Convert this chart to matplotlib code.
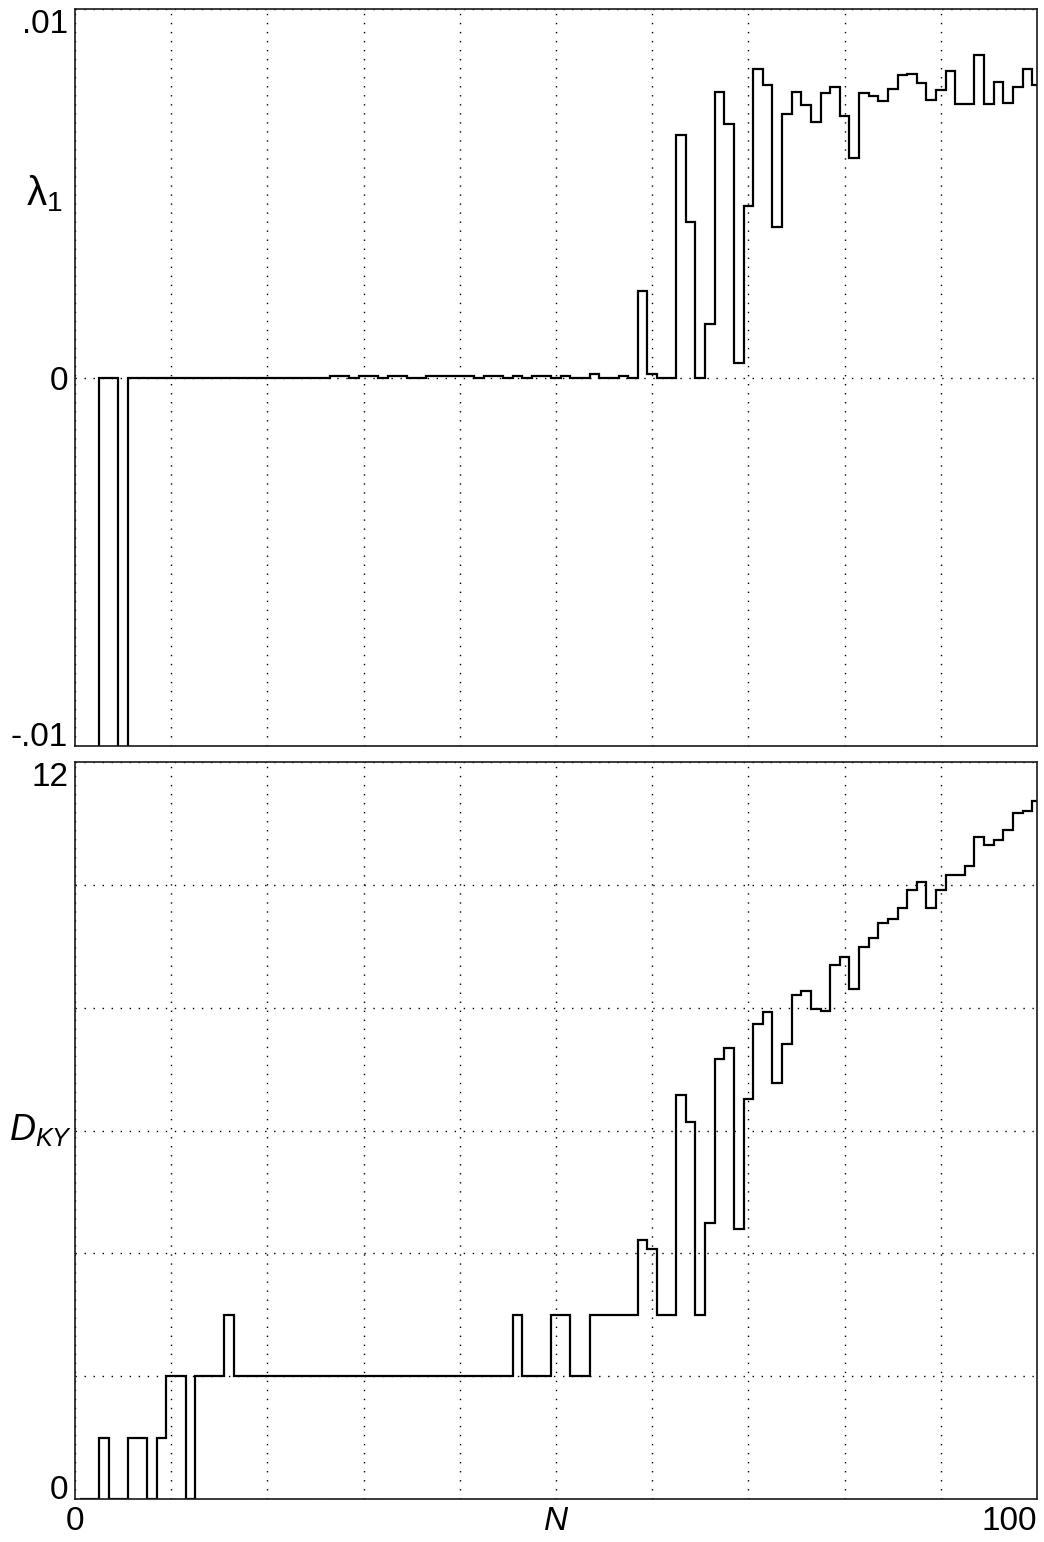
import numpy as np
import matplotlib
matplotlib.use("Agg")
import matplotlib.pyplot as plt

plt.rcParams['font.family'] = ['Liberation Sans', 'DejaVu Sans']
plt.rcParams['mathtext.fontset'] = 'custom'
plt.rcParams['mathtext.rm'] = 'Liberation Sans'
plt.rcParams['mathtext.it'] = 'Liberation Sans:italic'

# system size N = 1..100
n_vals = np.arange(1, 101)

# largest Lyapunov exponent, in units of 1e-3 (values below -10 are off the chart)
lam1_milli = [
    -20, -20, 0, 0, -20, 0, 0, 0, 0, 0,
    0, 0, 0, 0, 0, 0, 0, 0, 0, 0,
    0, 0, 0, 0, 0, 0, 0.04, 0.04, 0, 0.04,
    0.04, 0, 0.04, 0.04, 0, 0, 0.04, 0.04, 0.04, 0.04,
    0.04, 0, 0.04, 0.04, 0, 0.04, 0, 0.04, 0.04, 0,
    0.04, 0, 0, 0.09, 0, 0, 0.04, 0, 2.36, 0.09,
    0, 0, 6.58, 4.22, 0, 1.44, 7.75, 6.88, 0.39, 4.66,
    8.36, 7.93, 4.09, 7.15, 7.75, 7.40, 6.94, 7.72, 7.88, 7.09,
    5.97, 7.72, 7.63, 7.50, 7.84, 8.20, 8.24, 7.99, 7.54, 7.80,
    8.32, 7.41, 7.41, 8.76, 7.41, 8.02, 7.45, 7.89, 8.36, 7.93,
]
lam1 = np.array(lam1_milli) * 1e-3

# Kaplan-Yorke dimension
d_ky = [
    0, 0, 1, 0, 0, 1, 1, 0, 1, 2,
    2, 0, 2, 2, 2, 3, 2, 2, 2, 2,
    2, 2, 2, 2, 2, 2, 2, 2, 2, 2,
    2, 2, 2, 2, 2, 2, 2, 2, 2, 2,
    2, 2, 2, 2, 2, 3, 2, 2, 2, 3,
    3, 2, 2, 3, 3, 3, 3, 3, 4.22, 4.07,
    3, 3, 6.57, 6.14, 3, 4.50, 7.17, 7.35, 4.39, 6.51,
    7.74, 7.93, 6.78, 7.41, 8.21, 8.27, 7.98, 7.95, 8.69, 8.82,
    8.30, 8.98, 9.13, 9.38, 9.45, 9.63, 9.92, 10.05, 9.62, 9.92,
    10.16, 10.16, 10.31, 10.78, 10.65, 10.73, 10.89, 11.17, 11.20, 11.36,
]

x_ticks = np.arange(0, 101, 10)
x_labels = ['0', '', '', '', '', 'N', '', '', '', '', '100']

W, H = 1044, 1542
fig = plt.figure(figsize=(W / 100, H / 100), dpi=100)
ax1 = fig.add_axes([75 / W, 1 - 746 / H, 962 / W, 737 / H])
ax2 = fig.add_axes([75 / W, 1 - 1499 / H, 962 / W, 737 / H])

edges = np.append(n_vals - 0.5, n_vals[-1] + 0.5)
line_kw = dict(color='black', linewidth=1.6, baseline=None)
grid_kw = dict(color='black', linewidth=1.0, linestyle=(0, (1, 5.5)))
fs = 24

ax1.stairs(lam1, edges, **line_kw)
ax2.stairs(d_ky, edges, **line_kw)

for ax in (ax1, ax2):
    ax.set_xlim(0, 100)
    ax.set_xticks(x_ticks)
    ax.grid(True, **grid_kw)
    ax.tick_params(length=0, pad=5, labelsize=fs)
    for s in ax.spines.values():
        s.set_linewidth(1.2)
        s.set_color('#1a1a1a')
    ax.set_axisbelow(True)

ax1.set_xticklabels([''] * len(x_ticks))
ax2.set_xticklabels(x_labels)
xl = ax2.get_xticklabels()
xl[5].set_fontstyle('italic')
xl[-1].set_horizontalalignment('right')
xl[-1].set_x(100.0)

# top panel
ax1.set_ylim(-0.01, 0.01)
ax1.set_yticks([-0.01, 0, 0.01])
ax1.set_yticklabels(['-.01', '0', '.01'])
yl = ax1.get_yticklabels()
yl[0].set_verticalalignment('baseline')
yl[2].set_verticalalignment('top')
ax1.text(-0.013, 0.005, r'$\mathrm{\lambda}_\mathrm{1}$', transform=ax1.get_yaxis_transform(),
         ha='right', va='center', fontsize=29)

# bottom panel
ax2.set_ylim(0, 12)
ax2.set_yticks([0, 2, 4, 6, 8, 10, 12])
ax2.set_yticklabels(['0', '', '', '', '', '', '12'])
yl = ax2.get_yticklabels()
yl[0].set_verticalalignment('baseline')
yl[-1].set_verticalalignment('top')
ax2.text(-0.003, 6, r'$D_{KY}$', transform=ax2.get_yaxis_transform(),
         ha='right', va='center', fontsize=26)

fig.savefig('out.png', dpi=100)
